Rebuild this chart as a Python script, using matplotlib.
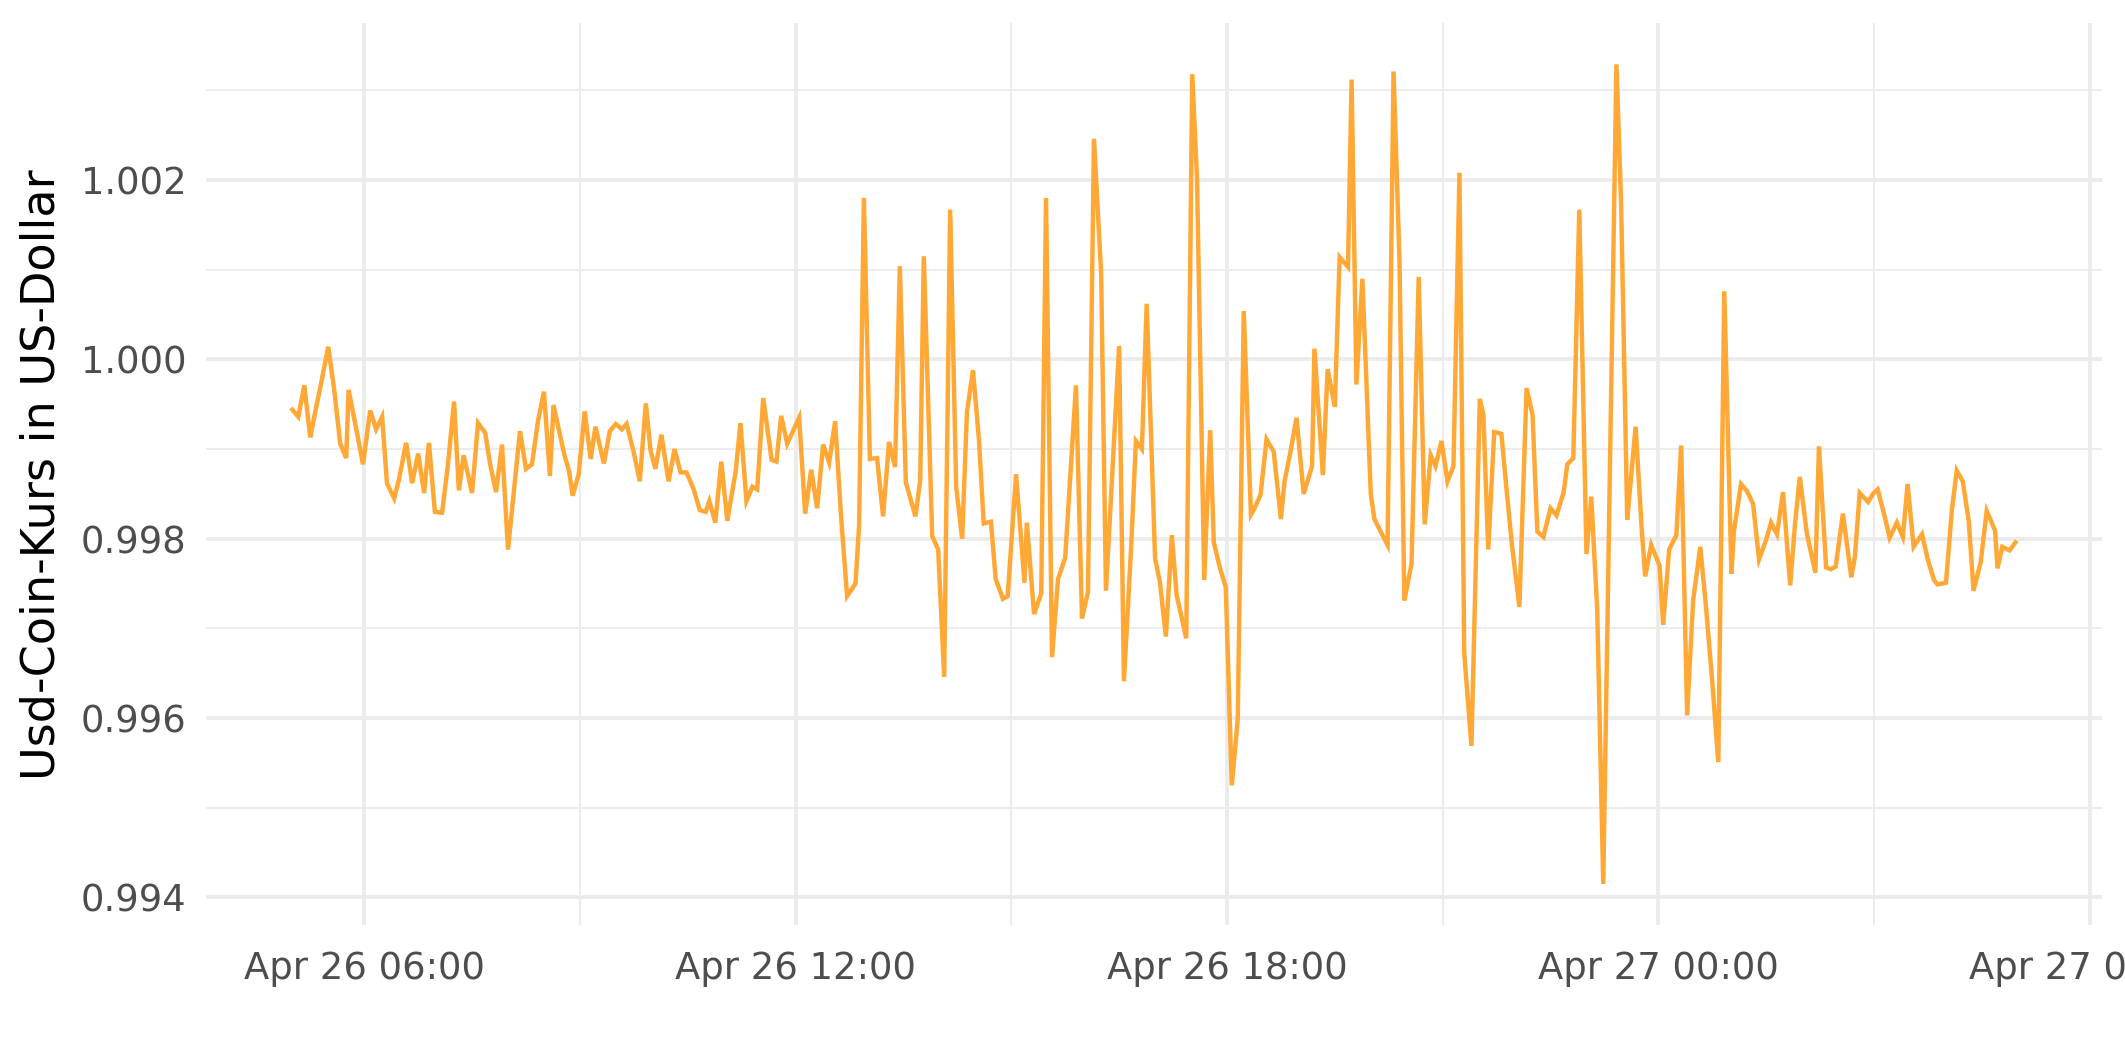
import matplotlib
matplotlib.use("Agg")
import matplotlib.pyplot as plt
import matplotlib.dates as mdates
from matplotlib.ticker import FixedLocator, FormatStrFormatter
from datetime import datetime, timedelta

# ---- data: minutes after Apr 26 06:00 and USDC price in USD ----
minutes_a = [-60, -55, -50, -45, -40, -36, -30, -25, -20, -15, -13, -7, -1, 5, 10, 15, 19, 25, 29, 35,
             40, 45, 50, 54, 59, 65, 70, 75, 79, 83, 90, 95, 101, 105, 110, 115, 120, 130, 135]
price_a = [0.99944, 0.99936, 0.99971, 0.99913, 0.99947, 0.99973, 1.00014, 0.99966, 0.99906, 0.99890,
           0.99966, 0.99925, 0.99883, 0.99943, 0.99922, 0.99936, 0.99862, 0.99845, 0.99866, 0.99907,
           0.99862, 0.99895, 0.99851, 0.99907, 0.99830, 0.99829, 0.99884, 0.99953, 0.99854, 0.99893,
           0.99851, 0.99929, 0.99918, 0.99884, 0.99852, 0.99905, 0.99788, 0.99920, 0.99878]

minutes_b = [140, 145, 150, 155, 158, 163, 167, 171, 174, 179, 184, 189, 193, 200, 205, 210, 215, 219,
             225, 230, 235, 239, 243, 248, 254, 259, 264, 269, 275, 280, 285, 288, 293, 298, 303, 310,
             314, 319, 324, 328, 333]
price_b = [0.99883, 0.99931, 0.99964, 0.99870, 0.99949, 0.99918, 0.99894, 0.99875, 0.99848, 0.99872,
           0.99942, 0.99889, 0.99925, 0.99884, 0.99920, 0.99928, 0.99922, 0.99928, 0.99896, 0.99864,
           0.99951, 0.99898, 0.99878, 0.99916, 0.99864, 0.99900, 0.99874, 0.99874, 0.99855, 0.99832,
           0.99830, 0.99842, 0.99818, 0.99886, 0.99820, 0.99875, 0.99929, 0.99842, 0.99858, 0.99855,
           0.99957]

minutes_c = [340, 344, 348, 353, 363, 368, 373, 378, 383, 388, 393, 398, 403, 410, 413, 417, 422, 428,
             433, 438, 443, 447, 452, 460, 464, 467, 474, 479, 484, 489, 494, 499, 503, 508, 513, 517,
             523, 527, 533, 537]
price_c = [0.99888, 0.99886, 0.99937, 0.99906, 0.99935, 0.99828, 0.99877, 0.99834, 0.99905, 0.99885,
           0.99931, 0.99824, 0.99736, 0.99750, 0.99815, 1.00180, 0.99889, 0.99890, 0.99825, 0.99908,
           0.99880, 1.00104, 0.99863, 0.99825, 0.99865, 1.00115, 0.99803, 0.99788, 0.99646, 1.00167,
           0.99858, 0.99800, 0.99941, 0.99988, 0.99911, 0.99817, 0.99819, 0.99755, 0.99733, 0.99736]

minutes_d = [544, 551, 553, 559, 565, 569, 574, 579, 585, 594, 599, 604, 609, 615, 619, 630, 634, 640,
             644, 649, 653, 660, 664, 669, 674, 678, 686, 691, 695, 701, 706, 709, 714, 719, 724, 729,
             734, 740]
price_d = [0.99872, 0.99751, 0.99818, 0.99716, 0.99739, 1.00180, 0.99668, 0.99755, 0.99779, 0.99971,
           0.99711, 0.99741, 1.00246, 1.00096, 0.99742, 1.00015, 0.99641, 0.99790, 0.99909, 0.99900,
           1.00062, 0.99778, 0.99752, 0.99691, 0.99804, 0.99737, 0.99689, 1.00318, 1.00202, 0.99754,
           0.99921, 0.99796, 0.99768, 0.99746, 0.99525, 0.99599, 1.00054, 0.99827]

minutes_e = [743, 748, 753, 759, 765, 768, 773, 778, 784, 791, 793, 800, 804, 810, 814, 821, 824, 828,
             833, 840, 843, 849, 854, 859, 864, 868, 874, 880, 885, 890, 894, 899, 904, 909, 914, 918,
             924, 931, 934, 938, 943]
price_e = [0.99834, 0.99849, 0.99911, 0.99897, 0.99822, 0.99864, 0.99897, 0.99935, 0.99850, 0.99881,
           1.00012, 0.99871, 0.99989, 0.99947, 1.00114, 1.00103, 1.00312, 0.99972, 1.00090, 0.99850,
           0.99822, 0.99806, 0.99793, 1.00321, 1.00108, 0.99731, 0.99772, 1.00092, 0.99816, 0.99893,
           0.99881, 0.99909, 0.99864, 0.99881, 1.00208, 0.99672, 0.99569, 0.99956, 0.99938, 0.99788,
           0.99919]

minutes_f = [949, 954, 958, 964, 970, 975, 979, 984, 990, 995, 1001, 1004, 1009, 1014, 1020, 1024, 1029,
             1034, 1045, 1049, 1054, 1061, 1066, 1069, 1074, 1081, 1084, 1089, 1095, 1099, 1104, 1109,
             1115, 1120, 1125, 1130, 1135, 1141]
price_f = [0.99917, 0.99845, 0.99791, 0.99724, 0.99968, 0.99938, 0.99808, 0.99802, 0.99834, 0.99826,
           0.99852, 0.99883, 0.99890, 1.00167, 0.99783, 0.99847, 0.99720, 0.99415, 1.00329, 1.00170,
           0.99821, 0.99925, 0.99813, 0.99758, 0.99793, 0.99770, 0.99704, 0.99788, 0.99804, 0.99904,
           0.99603, 0.99731, 0.99791, 0.99720, 0.99640, 0.99551, 1.00076, 0.99761]

minutes_g = [1143, 1149, 1154, 1159, 1164, 1170, 1174, 1179, 1184, 1190, 1194, 1198, 1204, 1211, 1214,
             1220, 1224, 1228, 1234, 1241, 1244, 1248, 1255, 1259, 1263, 1269, 1273, 1279, 1284, 1288,
             1293, 1300, 1305, 1310, 1313, 1320, 1325, 1329, 1334, 1339, 1343, 1349, 1354, 1361, 1363,
             1367, 1373, 1378]
price_g = [0.99808, 0.99861, 0.99853, 0.99839, 0.99777, 0.99799, 0.99818, 0.99805, 0.99852, 0.99748,
           0.99816, 0.99869, 0.99805, 0.99762, 0.99903, 0.99768, 0.99766, 0.99769, 0.99828, 0.99757,
           0.99780, 0.99851, 0.99841, 0.99850, 0.99855, 0.99824, 0.99801, 0.99818, 0.99802, 0.99861,
           0.99791, 0.99805, 0.99776, 0.99754, 0.99749, 0.99751, 0.99833, 0.99876, 0.99864, 0.99820,
           0.99742, 0.99774, 0.99831, 0.99809, 0.99767, 0.99791, 0.99787, 0.99796]

y_ticks = [0.994, 0.996, 0.998, 1.000, 1.002]
y_minor = [0.995, 0.997, 0.999, 1.001, 1.003]
y_label = "Usd-Coin-Kurs in US-Dollar"

minutes = minutes_a + minutes_b + minutes_c + minutes_d + minutes_e + minutes_f + minutes_g
price = price_a + price_b + price_c + price_d + price_e + price_f + price_g
assert len(minutes) == len(price)

base = datetime(2024, 4, 26, 6, 0)
times = [base + timedelta(minutes=m) for m in minutes]

# ---- plot ----
fig = plt.figure(figsize=(2125 / 200, 1062 / 200), dpi=200)
ax = fig.add_axes([0.097, 0.129, 0.892, 0.849])

ax.plot(times, price, color="#FFA836", lw=1.6, solid_joinstyle="miter", zorder=3)
ax.margins(x=0.05, y=0.05)

ax.xaxis.set_major_locator(mdates.HourLocator(byhour=[0, 6, 12, 18]))
ax.xaxis.set_minor_locator(mdates.HourLocator(byhour=[3, 9, 15, 21]))
ax.xaxis.set_major_formatter(mdates.DateFormatter("%b %d %H:%M"))
ax.yaxis.set_major_locator(FixedLocator(y_ticks))
ax.yaxis.set_minor_locator(FixedLocator(y_minor))
ax.yaxis.set_major_formatter(FormatStrFormatter("%.3f"))

ax.grid(which="major", color="#EBEBEB", lw=1.35, zorder=0)
ax.grid(which="minor", color="#EBEBEB", lw=0.65, zorder=0)
ax.set_axisbelow(True)
for s in ax.spines.values():
    s.set_visible(False)
ax.tick_params(which="both", length=0)
ax.tick_params(axis="both", which="major", labelsize=13.3, labelcolor="#4D4D4D")
ax.tick_params(axis="x", pad=9)
ax.tick_params(axis="y", pad=7)
ax.set_ylabel(y_label, fontsize=16.6, color="black", labelpad=6)

fig.savefig("out.png", dpi=200)
